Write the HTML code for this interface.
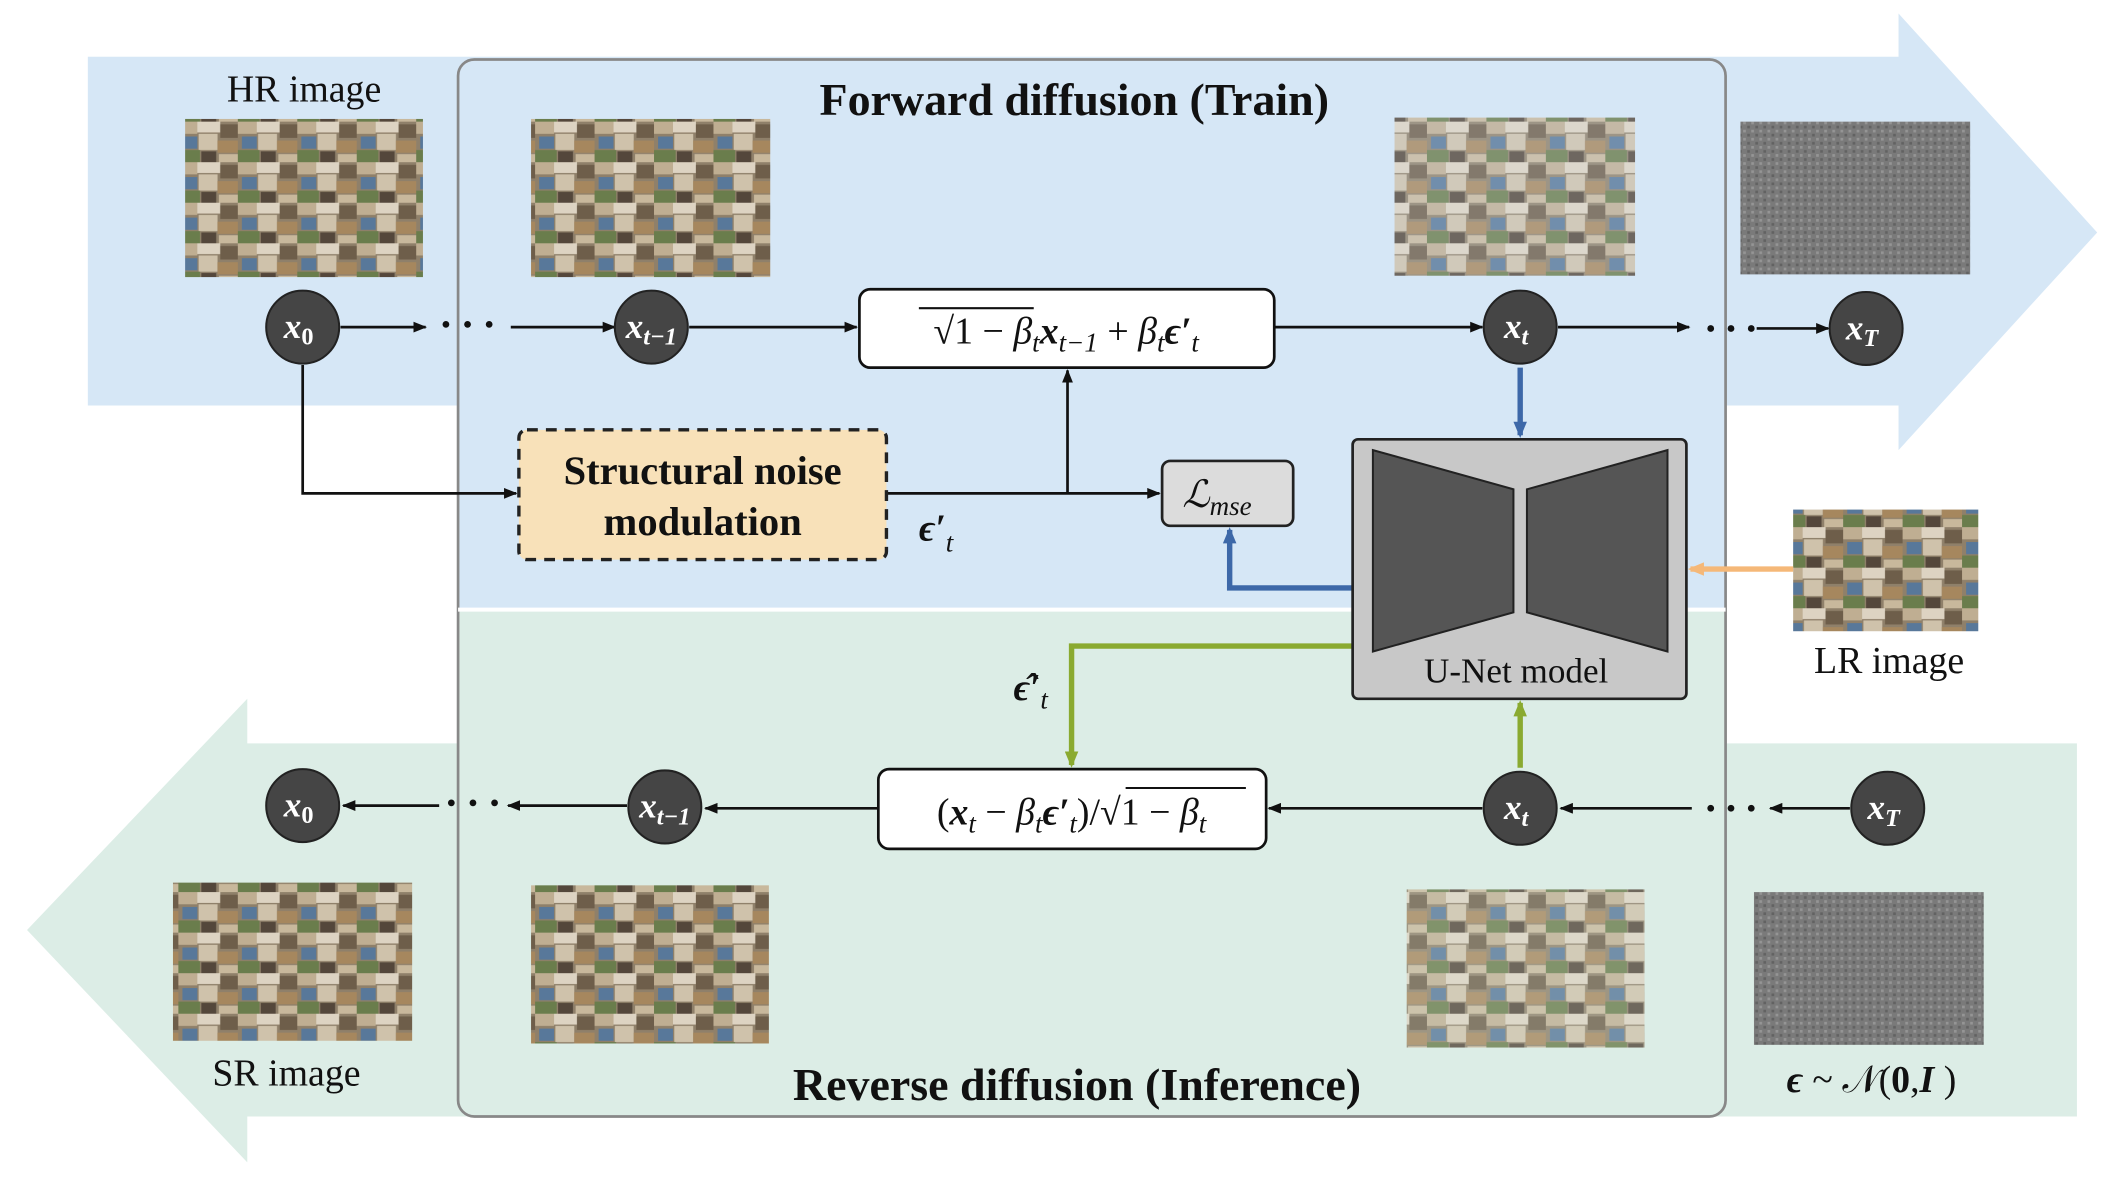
<!DOCTYPE html>
<html><head><meta charset="utf-8"><style>
html,body{margin:0;padding:0;background:#fff;}
svg{display:block;}
text{font-family:"Liberation Serif",serif;}
</style></head><body>
<svg width="2108" height="1180" viewBox="0 0 1560 873" preserveAspectRatio="none" xmlns="http://www.w3.org/2000/svg">
<defs>
<pattern id="img" width="44" height="30" patternUnits="userSpaceOnUse">
<rect width="44" height="30" fill="#8f806a"/>
<rect x="0" y="0" width="14" height="9" fill="#bfae92"/>
<rect x="14" y="0" width="17" height="8" fill="#ddd3c2"/>
<rect x="31" y="2" width="13" height="10" fill="#6e5e4a"/>
<rect x="3" y="11" width="11" height="9" fill="#58789a"/>
<rect x="15" y="9" width="14" height="12" fill="#cfc2ab"/>
<rect x="29" y="14" width="15" height="9" fill="#a6875e"/>
<rect x="0" y="21" width="16" height="9" fill="#6a7d4c"/>
<rect x="17" y="22" width="11" height="8" fill="#54473b"/>
<rect x="30" y="24" width="14" height="6" fill="#c8b89c"/>
</pattern>
<pattern id="noise" width="6" height="6" patternUnits="userSpaceOnUse">
<rect width="6" height="6" fill="#7a7a7a"/>
<rect x="0" y="0" width="2" height="2" fill="#959595"/>
<rect x="3" y="3" width="2" height="2" fill="#626262"/>
</pattern>
<marker id="ah" markerWidth="10" markerHeight="8" refX="9" refY="4" orient="auto" markerUnits="userSpaceOnUse"><path d="M0,0 L10,4 L0,8 z" fill="#111"/></marker>
<marker id="ahb" markerWidth="12" markerHeight="10" refX="10" refY="5" orient="auto" markerUnits="userSpaceOnUse"><path d="M0,0 L12,5 L0,10 z" fill="#3d68a8"/></marker>
<marker id="ahg" markerWidth="12" markerHeight="10" refX="10" refY="5" orient="auto" markerUnits="userSpaceOnUse"><path d="M0,0 L12,5 L0,10 z" fill="#8aaa30"/></marker>
<marker id="aho" markerWidth="12" markerHeight="10" refX="10" refY="5" orient="auto" markerUnits="userSpaceOnUse"><path d="M0,0 L12,5 L0,10 z" fill="#f5b878"/></marker>
</defs>
<path d="M65,42 L1405,42 L1405,10 L1552,172 L1405,333 L1405,300 L65,300 z" fill="#d6e7f6"/>
<path d="M1537,550 L183,550 L183,517 L20,688 L183,860 L183,826 L1537,826 z" fill="#dcede6"/>
<path d="M351,44 H1265 Q1277,44 1277,56 V450 H339 V56 Q339,44 351,44 z" fill="#d6e7f6"/>
<path d="M339,452 H1277 V814 Q1277,826 1265,826 H351 Q339,826 339,814 z" fill="#dcede6"/>
<rect x="339" y="44" width="938" height="782" rx="12" fill="none" stroke="#888" stroke-width="2"/>
<line x1="339" y1="451" x2="1277" y2="451" stroke="#fff" stroke-width="3"/>
<text x="795" y="85" text-anchor="middle" font-size="34" font-weight="bold" fill="#111">Forward diffusion (Train)</text>
<text x="797" y="814" text-anchor="middle" font-size="34" font-weight="bold" fill="#111">Reverse diffusion (Inference)</text>
<rect x="137" y="88" width="176" height="117" fill="url(#img)"/>
<rect x="393" y="88" width="177" height="117" fill="url(#img)"/>
<rect x="1032" y="87" width="178" height="117" fill="url(#img)" opacity="0.8"/>
<rect x="1288" y="90" width="170" height="113" fill="url(#noise)"/>
<rect x="1327" y="377" width="137" height="90" fill="url(#img)"/>
<rect x="128" y="653" width="177" height="117" fill="url(#img)"/>
<rect x="393" y="655" width="176" height="117" fill="url(#img)"/>
<rect x="1041" y="658" width="176" height="117" fill="url(#img)" opacity="0.8"/>
<rect x="1298" y="660" width="170" height="113" fill="url(#noise)"/>
<text x="225" y="75" text-anchor="middle" font-size="28" fill="#111">HR image</text>
<text x="1398" y="498" text-anchor="middle" font-size="28" fill="#111">LR image</text>
<text x="212" y="803" text-anchor="middle" font-size="28" fill="#111">SR image</text>
<text x="1385" y="808" text-anchor="middle" font-size="28" fill="#111"><tspan font-weight="bold" font-style="italic">ϵ</tspan> ~ 𝒩(<tspan font-weight="bold">0</tspan>,<tspan font-weight="bold" font-style="italic">I</tspan> )</text>
<g stroke="#111" stroke-width="2" fill="none">
<line x1="252" y1="242" x2="315" y2="242" marker-end="url(#ah)"/>
<line x1="378" y1="242" x2="455" y2="242" marker-end="url(#ah)"/>
<line x1="510" y1="242" x2="634" y2="242" marker-end="url(#ah)"/>
<line x1="943" y1="242" x2="1097" y2="242" marker-end="url(#ah)"/>
<line x1="1153" y1="242" x2="1250" y2="242" marker-end="url(#ah)"/>
<line x1="1300" y1="243" x2="1353" y2="243" marker-end="url(#ah)"/>
<polyline points="224,270 224,365 382,365" marker-end="url(#ah)"/>
<line x1="656" y1="365" x2="858" y2="365" marker-end="url(#ah)"/>
<line x1="790" y1="365" x2="790" y2="274" marker-end="url(#ah)"/>
<line x1="1369" y1="598" x2="1310" y2="598" marker-end="url(#ah)"/>
<line x1="1252" y1="598" x2="1155" y2="598" marker-end="url(#ah)"/>
<line x1="1097" y1="598" x2="939" y2="598" marker-end="url(#ah)"/>
<line x1="650" y1="598" x2="522" y2="598" marker-end="url(#ah)"/>
<line x1="464" y1="596" x2="376" y2="596" marker-end="url(#ah)"/>
<line x1="325" y1="596" x2="254" y2="596" marker-end="url(#ah)"/>
</g>
<g fill="#111"><circle cx="330" cy="240" r="2.5"/><circle cx="346" cy="240" r="2.5"/><circle cx="362" cy="240" r="2.5"/>
<circle cx="1266" cy="243" r="2.5"/><circle cx="1281" cy="243" r="2.5"/><circle cx="1296" cy="243" r="2.5"/>
<circle cx="1266" cy="598" r="2.5"/><circle cx="1281" cy="598" r="2.5"/><circle cx="1296" cy="598" r="2.5"/>
<circle cx="334" cy="594" r="2.5"/><circle cx="350" cy="594" r="2.5"/><circle cx="366" cy="594" r="2.5"/></g>
<line x1="1125" y1="272" x2="1125" y2="322" stroke="#3d68a8" stroke-width="4" marker-end="url(#ahb)"/>
<polyline points="1001,435 910,435 910,392" stroke="#3d68a8" stroke-width="4" fill="none" marker-end="url(#ahb)"/>
<polyline points="1001,478 793,478 793,566" stroke="#8aaa30" stroke-width="4" fill="none" marker-end="url(#ahg)"/>
<line x1="1125" y1="568" x2="1125" y2="520" stroke="#8aaa30" stroke-width="4" marker-end="url(#ahg)"/>
<line x1="1327" y1="421" x2="1251" y2="421" stroke="#f5b878" stroke-width="4" marker-end="url(#aho)"/>
<rect x="636" y="214" width="307" height="58" rx="8" fill="#fff" stroke="#111" stroke-width="2"/>
<text x="789" y="254" text-anchor="middle" font-size="28" fill="#111">√1 − <tspan font-style="italic">β<tspan font-size="20" dy="6">t</tspan></tspan><tspan dy="-6" font-weight="bold" font-style="italic">x</tspan><tspan font-size="20" font-style="italic" dy="6">t−1</tspan><tspan dy="-6"> + </tspan><tspan font-style="italic">β</tspan><tspan font-size="20" font-style="italic" dy="6">t</tspan><tspan dy="-6" font-weight="bold" font-style="italic">ϵ′</tspan><tspan font-size="20" font-style="italic" dy="6">t</tspan></text>
<line x1="680" y1="228" x2="765" y2="228" stroke="#111" stroke-width="1.5"/>
<rect x="650" y="569" width="287" height="59" rx="8" fill="#fff" stroke="#111" stroke-width="2"/>
<text x="793" y="610" text-anchor="middle" font-size="28" fill="#111">(<tspan font-weight="bold" font-style="italic">x</tspan><tspan font-size="20" font-style="italic" dy="6">t</tspan><tspan dy="-6"> − </tspan><tspan font-style="italic">β</tspan><tspan font-size="20" font-style="italic" dy="6">t</tspan><tspan dy="-6" font-weight="bold" font-style="italic">ϵ′</tspan><tspan font-size="20" font-style="italic" dy="6">t</tspan><tspan dy="-6">)/√1 − </tspan><tspan font-style="italic">β</tspan><tspan font-size="20" font-style="italic" dy="6">t</tspan></text>
<line x1="833" y1="583" x2="922" y2="583" stroke="#111" stroke-width="1.5"/>
<rect x="384" y="318" width="272" height="96" rx="6" fill="#f8e1b9" stroke="#222" stroke-width="2.5" stroke-dasharray="8,6"/>
<text x="520" y="358" text-anchor="middle" font-size="30" font-weight="bold" fill="#111">Structural noise</text>
<text x="520" y="396" text-anchor="middle" font-size="30" font-weight="bold" fill="#111">modulation</text>
<text x="680" y="400" font-size="28" font-weight="bold" font-style="italic" fill="#111">ϵ′<tspan font-size="20" dy="8" font-weight="normal">t</tspan></text>
<rect x="860" y="341" width="97" height="48" rx="6" fill="#dcdcdc" stroke="#222" stroke-width="2"/>
<text x="875" y="375" font-size="28" font-style="italic" fill="#111">ℒ<tspan font-size="20" dy="6">mse</tspan></text>
<rect x="1001" y="325" width="247" height="192" rx="4" fill="#c8c8c8" stroke="#222" stroke-width="2"/>
<path d="M1016,333 L1120,362 L1120,453 L1016,482 z" fill="#555" stroke="#222" stroke-width="1.5"/>
<path d="M1130,362 L1234,333 L1234,482 L1130,453 z" fill="#555" stroke="#222" stroke-width="1.5"/>
<text x="1122" y="505" text-anchor="middle" font-size="26" fill="#111">U-Net model</text>
<text x="750" y="518" font-size="28" font-weight="bold" font-style="italic" fill="#111">ϵ̂′<tspan font-size="20" dy="6" font-weight="normal">t</tspan></text>
<g fill="#454545" stroke="#222" stroke-width="1.5">
<circle cx="224" cy="242" r="27"/><circle cx="482" cy="242" r="27"/><circle cx="1125" cy="242" r="27"/><circle cx="1381" cy="243" r="27"/>
<circle cx="224" cy="596" r="27"/><circle cx="492" cy="597" r="27"/><circle cx="1125" cy="598" r="27"/><circle cx="1397" cy="598" r="27"/>
</g>
<g fill="#fff" font-size="26" font-weight="bold" font-style="italic" text-anchor="middle">
<text x="221" y="250">x<tspan font-size="18" font-style="normal" dy="5">0</tspan></text>
<text x="482" y="250">x<tspan font-size="18" dy="5">t−1</tspan></text>
<text x="1122" y="250">x<tspan font-size="18" dy="5">t</tspan></text>
<text x="1378" y="251">x<tspan font-size="18" dy="5">T</tspan></text>
<text x="221" y="604">x<tspan font-size="18" font-style="normal" dy="5">0</tspan></text>
<text x="492" y="605">x<tspan font-size="18" dy="5">t−1</tspan></text>
<text x="1122" y="606">x<tspan font-size="18" dy="5">t</tspan></text>
<text x="1394" y="606">x<tspan font-size="18" dy="5">T</tspan></text>
</g>
</svg>
</body></html>
